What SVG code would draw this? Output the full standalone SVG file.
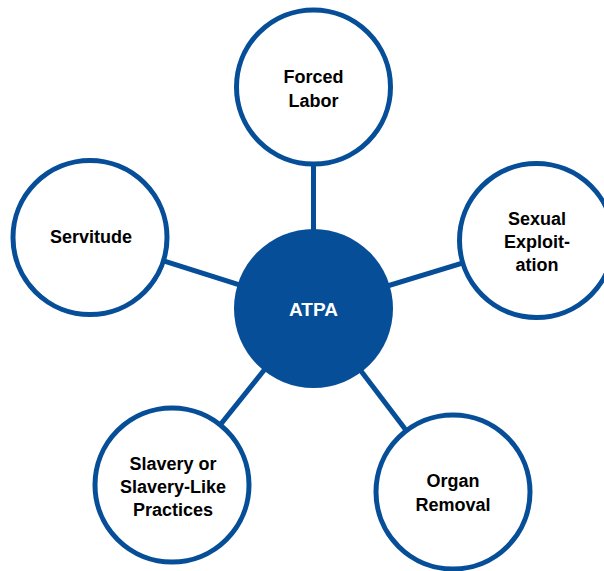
<svg xmlns="http://www.w3.org/2000/svg" width="604" height="571" viewBox="0 0 604 571">
<style>
.c{fill:#fff;stroke:#064E98;stroke-width:5}
.hub{fill:#064E98}
.t{font-family:"Liberation Sans",Arial,sans-serif;font-weight:bold;font-size:18px;fill:#000;text-anchor:middle}
.w{font-family:"Liberation Sans",Arial,sans-serif;font-weight:bold;font-size:19px;fill:#fff;text-anchor:middle}
#connectors line{stroke:#064E98;stroke-width:5}
</style>
<rect width="604" height="571" fill="#fff"/>
<g id="connectors">
<line x1="313.5" y1="308.5" x2="313.5" y2="87"/>
<line x1="313.5" y1="308.5" x2="90" y2="237.5"/>
<line x1="313.5" y1="308.5" x2="536.5" y2="240.5"/>
<line x1="313.5" y1="308.5" x2="172" y2="485"/>
<line x1="313.5" y1="308.5" x2="453" y2="492"/>
</g>
<g id="forced-labor">
<circle class="c" cx="313.5" cy="87" r="77"/>
<text class="t" x="313.5" y="83">Forced</text>
<text class="t" x="313.5" y="107">Labor</text>
</g>
<g id="servitude">
<circle class="c" cx="90" cy="237.5" r="77"/>
<text class="t" x="91" y="243">Servitude</text>
</g>
<g id="sexual-exploitation">
<circle class="c" cx="536.5" cy="240.5" r="77"/>
<text class="t" x="537" y="225">Sexual</text>
<text class="t" x="537" y="248">Exploit-</text>
<text class="t" x="537" y="271">ation</text>
</g>
<g id="slavery">
<circle class="c" cx="172" cy="485" r="77"/>
<text class="t" x="173" y="470">Slavery or</text>
<text class="t" x="173" y="493">Slavery-Like</text>
<text class="t" x="173" y="516">Practices</text>
</g>
<g id="organ-removal">
<circle class="c" cx="453" cy="492" r="77"/>
<text class="t" x="453" y="487">Organ</text>
<text class="t" x="453" y="511">Removal</text>
</g>
<g id="atpa">
<circle class="hub" cx="313.5" cy="308.5" r="79.5"/>
<text class="w" x="313.5" y="316">ATPA</text>
</g>
</svg>
